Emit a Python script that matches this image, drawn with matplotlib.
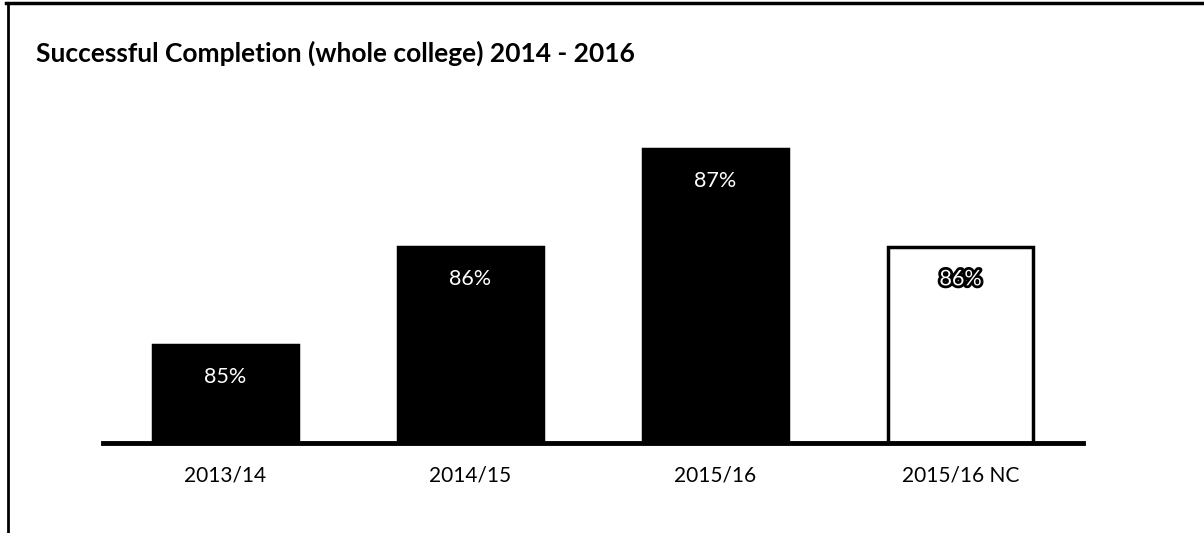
import matplotlib.pyplot as plt
import matplotlib.patheffects as pe
from matplotlib.lines import Line2D

# ---------------------------- data ----------------------------
years = ['2013/14', '2014/15', '2015/16', '2015/16 NC']
completion = [85, 86, 87, 86]
labels = ['85%', '86%', '87%', '86%']
face = ['black', 'black', 'black', 'white']

plt.rcParams['font.family'] = ['Lato', 'DejaVu Sans']

W, H = 1204, 533
fig = plt.figure(figsize=(W / 100, H / 100), dpi=100)

# axes placed in pixels: baseline at y=443, x from 103 to 1083
ax = fig.add_axes([103 / W, (H - 443) / H, (1083 - 103) / W, 343 / H])
ax.bar(range(len(years)), [v - 84 for v in completion], bottom=84, width=0.595,
       color=face, edgecolor='black', linewidth=2.5)
ax.set_xlim(-0.5, 3.5)
ax.set_ylim(84, 87.5)

for i, (v, lab) in enumerate(zip(completion, labels)):
    t = ax.text(i, v - 0.33, lab, ha='center', va='center', color='white',
                fontsize=15.5)
    if face[i] == 'white':
        t.set_path_effects([pe.Stroke(linewidth=4, foreground='black'), pe.Normal()])

for s in ['top', 'right', 'left']:
    ax.spines[s].set_visible(False)
ax.spines['bottom'].set_linewidth(3.5)
ax.set_yticks([])
ax.set_xticks(range(len(years)))
ax.set_xticklabels(years, fontsize=15)
ax.tick_params(axis='x', length=0, pad=16)

# outer frame (top and left only)
fig.add_artist(Line2D([6 / W, 1], [1 - 3 / H, 1 - 3 / H], color='black', lw=2.5,
                      transform=fig.transFigure))
fig.add_artist(Line2D([8 / W, 8 / W], [0, 1 - 3 / H], color='black', lw=2,
                      transform=fig.transFigure))

fig.text(36 / W, 1 - 53 / H, 'Successful Completion (whole college) 2014 - 2016',
         fontsize=19, fontweight='bold', va='center', ha='left')

fig.savefig('out.png', dpi=100)
